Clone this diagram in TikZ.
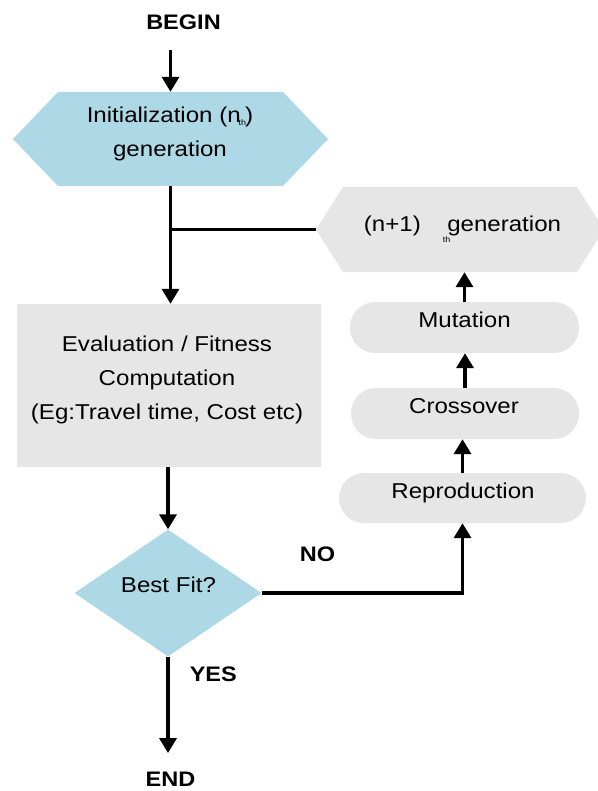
\documentclass[tikz,border=0pt]{standalone}
\usepackage{fontspec}
\setmainfont{Liberation Sans}[FakeStretch=1.12]
\usetikzlibrary{arrows.meta,shapes.geometric}
\definecolor{hexblue}{HTML}{ADD8E6}
\definecolor{boxgray}{HTML}{E6E6E6}
\newcommand{\thmark}{{\fontsize{8}{8}\selectfont th}}

\begin{document}
\begin{tikzpicture}[x=1pt,y=-1pt,
  txt/.style={inner sep=0pt, font=\fontsize{21.5}{34}\selectfont},
  lbl/.style={inner sep=0pt, font=\fontsize{21}{25}\selectfont\bfseries},
  arr/.style={line width=3.5pt, -{Triangle[length=15pt,width=17pt]}},
  link/.style={line width=3.5pt},
  stadium/.style={fill=boxgray, rounded corners=25pt, inner sep=0pt},
  plainbox/.style={fill=boxgray, inner sep=0pt},
  decision/.style={diamond, fill=hexblue, inner sep=0pt},
  hexa/.style 2 args={inner sep=0pt,
    path picture={\fill[#1]
      (path picture bounding box.west)
      -- ([xshift=#2]path picture bounding box.north west)
      -- ([xshift=-#2]path picture bounding box.north east)
      -- (path picture bounding box.east)
      -- ([xshift=-#2]path picture bounding box.south east)
      -- ([xshift=#2]path picture bounding box.south west) -- cycle;}}
]
\useasboundingbox (0,0) rectangle (597,791);

% shapes
\node[hexa={hexblue}{45pt}, minimum width=315pt, minimum height=94pt] (init) at (170.5,139) {};
\node[hexa={boxgray}{27pt}, minimum width=288pt, minimum height=85pt] (next) at (460,229.5) {};
\node[plainbox, minimum width=304pt, minimum height=163pt] (eval) at (169,385.5) {};
\node[decision, minimum width=187pt, minimum height=127pt] (best) at (168,593) {};
\node[stadium, minimum width=229pt, minimum height=51pt] (mut) at (464.5,327.5) {};
\node[stadium, minimum width=228pt, minimum height=51pt] (cross) at (465,413.5) {};
\node[stadium, minimum width=247pt, minimum height=50pt] (repro) at (462.5,498) {};

% texts
\node[lbl, anchor=base] (beginT) at (183.5,29.5) {BEGIN};
\node[txt, anchor=north, align=center] (initT) at (170,102)
  {\rule{0pt}{20pt}Initialization (n\kern-2pt\raisebox{-3pt}{\thmark}\kern-1pt)\\generation};
\node[txt, anchor=base] (nextT) at (462.5,232)
  {(n+1)\hspace{22pt}\raisebox{-11pt}{\thmark}\kern-3pt generation};
\node[txt, anchor=north, align=center] (evalT) at (167,331)
  {\rule{0pt}{20pt}Evaluation / Fitness\\Computation\\(Eg:Travel time, Cost etc)};
\node[txt, anchor=base] (mutT) at (464.5,327) {Mutation};
\node[txt, anchor=base] (crossT) at (464,413) {Crossover};
\node[txt, anchor=base] (reproT) at (463,498) {Reproduction};
\node[txt, anchor=base] (bestT) at (168.5,592) {Best Fit?};
\node[lbl, anchor=base] (noT) at (317.5,561.7) {NO};
\node[lbl, anchor=base] (yesT) at (213.3,681.7) {YES};
\node[lbl, anchor=base] (endT) at (170.5,786.7) {END};

% connectors
\draw[arr, shorten <=20pt] (beginT.south -| init.north) -- (init.north);
\draw[arr] (init.south) -- (init.south |- eval.north);
\draw[link] (next.west) -- (init.south |- next.west);
\draw[arr] (best.north |- eval.south) -- (best.north);
\draw[arr] (best.east) -| (repro.south);
\draw[arr, shorten >=19pt] (best.south) -- (best.south |- endT.north);
\draw[arr] (repro.north) -- (repro.north |- cross.south);
\draw[arr] (cross.north) -- (cross.north |- mut.south);
\draw[arr] (mut.north) -- (mut.north |- next.south);
\end{tikzpicture}
\end{document}
